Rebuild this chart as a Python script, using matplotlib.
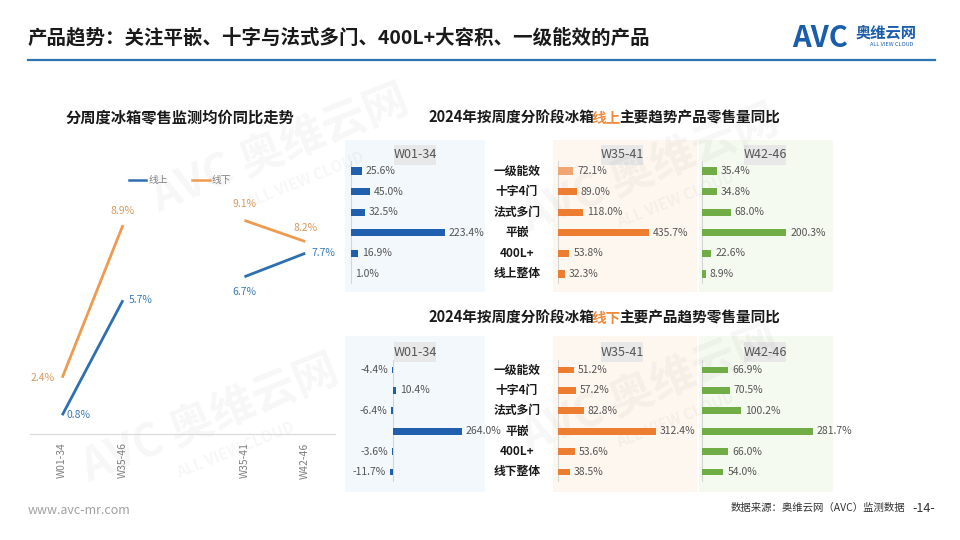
import matplotlib
matplotlib.use('Agg')
import matplotlib.pyplot as plt
from matplotlib.patches import Rectangle
from matplotlib.lines import Line2D

plt.rcParams['font.family'] = ['Noto Sans CJK SC', 'DejaVu Sans']

W, H = 960, 540

# ---- data ----
periods = ['W01-34', 'W35-46', '', 'W35-41', 'W42-46']
online_price = [0.8, 5.7, 6.7, 7.7]      # 线上
offline_price = [2.4, 8.9, 9.1, 8.2]     # 线下
price_pos = [0, 1, 3, 4]

cats_on = ['一级能效', '十字4门', '法式多门', '平嵌', '400L+', '线上整体']
cats_off = ['一级能效', '十字4门', '法式多门', '平嵌', '400L+', '线下整体']
panels = ['W01-34', 'W35-41', 'W42-46']

on_w01 = [25.6, 45.0, 32.5, 223.4, 16.9, 1.0]
on_w35 = [72.1, 89.0, 118.0, 435.7, 53.8, 32.3]
on_w42 = [35.4, 34.8, 68.0, 200.3, 22.6, 8.9]

off_w01 = [-4.4, 10.4, -6.4, 264.0, -3.6, -11.7]
off_w35 = [51.2, 57.2, 82.8, 312.4, 53.6, 38.5]
off_w42 = [66.9, 70.5, 100.2, 281.7, 66.0, 54.0]

BLUE = '#2E6FB0'
ORANGE = '#EE9B50'
BAR_BLUE = '#1F5FAE'
BAR_ORANGE = '#ED7D31'
BAR_GREEN = '#70AD47'


def rect(x0, y0, x1, y1):
    return [x0 / W, 1 - y1 / H, (x1 - x0) / W, (y1 - y0) / H]


fig = plt.figure(figsize=(9.6, 5.4), dpi=100)
fig.patch.set_facecolor('white')
bg = fig.add_axes([0, 0, 1, 1], zorder=-5)
bg.set_xlim(0, W)
bg.set_ylim(H, 0)
bg.axis('off')

# watermarks
for (wx, wy) in [(280, 150), (210, 420), (650, 170), (650, 390)]:
    bg.text(wx, wy, 'AVC 奥维云网', fontsize=32, fontweight='bold', style='italic',
            color='#000000', alpha=0.035, rotation=22, ha='center', va='center')
    bg.text(wx + 25, wy + 30, 'ALL VIEW CLOUD', fontsize=11, fontweight='bold',
            color='#000000', alpha=0.035, rotation=22, ha='center', va='center')

# header
bg.text(28, 38, '产品趋势：关注平嵌、十字与法式多门、400L+大容积、一级能效的产品',
        fontsize=14, fontweight='bold', color='#1a1a1a', va='center')
bg.plot([28, 935], [60, 60], color='#2E75B6', lw=1.6)
bg.text(792, 38, 'AVC', fontsize=21, fontweight='bold', style='italic', color='#1A5DAB', va='center')
bg.text(856, 33, '奥维云网', fontsize=11, fontweight='bold', color='#1A5DAB', va='center')
bg.text(870, 45, 'ALL VIEW CLOUD', fontsize=4, color='#1A5DAB', va='center')

# footer
bg.text(28, 510, 'www.avc-mr.com', fontsize=9, color='#A0A0A0', va='center')
bg.text(905, 508, '数据来源：奥维云网（AVC）监测数据', fontsize=7.5, color='#333333', va='center', ha='right')
bg.text(935, 508, '-14-', fontsize=9, color='#333333', va='center', ha='right')

# ---- left line chart ----
bg.text(180, 118, '分周度冰箱零售监测均价同比走势', fontsize=11, fontweight='bold',
        color='#1a1a1a', ha='center', va='center')
ax = fig.add_axes(rect(30, 150, 335, 434))
ax.set_xlim(-0.53, 4.49)
ax.set_ylim(0, 12.1)
for seg in [(0, 2), (2, 4)]:
    xs = price_pos[seg[0]:seg[1]]
    ax.plot(xs, offline_price[seg[0]:seg[1]], color=ORANGE, lw=2, solid_capstyle='butt')
    ax.plot(xs, online_price[seg[0]:seg[1]], color=BLUE, lw=2, solid_capstyle='butt')

off_offsets = [(-20, 0), (0, 14), (0, 16), (0, 14)]
on_offsets = [(16, 0), (18, 0), (0, -15), (18, 0)]
for i, p in enumerate(price_pos):
    ax.annotate(f'{offline_price[i]:.1f}%', (p, offline_price[i]), xytext=off_offsets[i],
                textcoords='offset pixels', ha='center', va='center', fontsize=7.5, color='#D89A60')
    ax.annotate(f'{online_price[i]:.1f}%', (p, online_price[i]), xytext=on_offsets[i],
                textcoords='offset pixels', ha='center', va='center', fontsize=7.5, color='#3D7BB5')

ax.set_xticks(range(len(periods)))
ax.set_xticklabels(periods, rotation=90, fontsize=7.5, color='#7F7F7F')
ax.tick_params(axis='x', length=0, pad=6)
ax.set_yticks([])
for s in ['top', 'right', 'left']:
    ax.spines[s].set_visible(False)
ax.spines['bottom'].set_color('#D9D9D9')
ax.patch.set_alpha(0)
handles = [Line2D([], [], color=BLUE, lw=1.8), Line2D([], [], color=ORANGE, lw=1.8)]
fig.legend(handles, ['线上', '线下'], loc='center', bbox_to_anchor=(180 / W, 1 - 180 / H),
           ncol=2, frameon=False, fontsize=7, handlelength=1.8, handletextpad=0.2,
           columnspacing=2.5, labelcolor='#7F7F7F')


# ---- right bar panels ----
def colored_title(y, parts):
    prev = None
    for txt, col in parts:
        if prev is None:
            prev = bg.text(428, y, txt, fontsize=10.5, fontweight='bold', color=col, va='center')
        else:
            prev = bg.annotate(txt, xy=(1, 0.5), xycoords=prev, xytext=(-2, 0),
                               textcoords='offset pixels', fontsize=10.5,
                               fontweight='bold', color=col, va='center', ha='left')


def bar_panel(x0, x1, y0, y1, base, scale, values, color, first_color=None):
    a = fig.add_axes(rect(x0, y0, x1, y1))
    a.set_xlim((x0 - base) / scale, (x1 - base) / scale)
    a.set_ylim(5.5, -0.5)
    cols = [color] * len(values)
    if first_color:
        cols[0] = first_color
    a.barh(range(len(values)), values, height=0.34, color=cols)
    a.axvline(0, color='#D5D5D5', lw=0.8, zorder=0)
    for i, v in enumerate(values):
        if v >= 0:
            a.annotate(f'{v:.1f}%', (v, i), xytext=(4, 0), textcoords='offset pixels',
                       ha='left', va='center', fontsize=7.5, color='#555555')
        else:
            a.annotate(f'{v:.1f}%', (v, i), xytext=(-4, 0), textcoords='offset pixels',
                       ha='right', va='center', fontsize=7.5, color='#555555')
    a.axis('off')
    return a


def panel_group(ytop, ybot, row0, row1, header_y, cats, data, scales, bases, light_first):
    for (px0, px1, fc) in [(345, 485, '#F3F8FD'), (553, 697, '#FEF7EF'), (699, 833, '#F5FAF1')]:
        bg.add_patch(Rectangle((px0, ytop), px1 - px0, ybot - ytop, facecolor=fc, edgecolor='none', zorder=-3))
    for name, cx in zip(panels, [415, 622, 765]):
        bg.add_patch(Rectangle((cx - 21, header_y - 10), 42, 20, facecolor='#E8E8E8', edgecolor='none', zorder=-2))
        bg.text(cx, header_y, name, fontsize=9, color='#555555', ha='center', va='center')
    sp = (row1 - row0) / 5
    for i, c in enumerate(cats):
        bg.text(517, row0 + i * sp, c, fontsize=8.5, fontweight='bold', color='#1a1a1a',
                ha='center', va='center')
    colors = [BAR_BLUE, BAR_ORANGE, BAR_GREEN]
    ranges = [(348, 485), (553, 697), (699, 833)]
    for k in range(3):
        bar_panel(ranges[k][0], ranges[k][1], row0 - sp / 2, row1 + sp / 2, bases[k], scales[k],
                  data[k], colors[k], first_color=('#F2A673' if (k == 1 and light_first) else None))


colored_title(118, [('2024年按周度分阶段冰箱', '#1a1a1a'), ('线上', '#F08A3C'),
                    ('主要趋势产品零售量同比', '#1a1a1a')])
panel_group(140, 292, 171, 274, 155, cats_on, [on_w01, on_w35, on_w42],
            [0.42, 0.209, 0.42], [351, 558, 702], True)

colored_title(318, [('2024年按周度分阶段冰箱', '#1a1a1a'), ('线下', '#F08A3C'),
                    ('主要产品趋势零售量同比', '#1a1a1a')])
panel_group(336, 492, 370, 472, 352, cats_off, [off_w01, off_w35, off_w42],
            [0.261, 0.314, 0.394], [393, 558, 702], False)

fig.savefig('out.png', dpi=100)
